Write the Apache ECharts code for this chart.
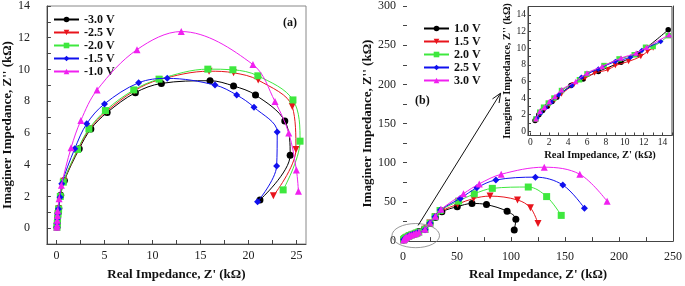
<!DOCTYPE html>
<html><head><meta charset="utf-8">
<script src="https://cdn.jsdelivr.net/npm/echarts@6/dist/echarts.min.js"></script>
<style>html,body{margin:0;padding:0;background:#fff}#c{width:685px;height:286px}</style>
</head><body><div id="c"></div>
<script>
// ---------- labels / ticks ----------
const namesA = ['-3.0 V', '-2.5 V', '-2.0 V', '-1.5 V', '-1.0 V'];
const namesB = ['1.0 V', '1.5 V', '2.0 V', '2.5 V', '3.0 V'];
const xLabelsA = [0, 5, 10, 15, 20, 25];
const xTicksA = [0, 2.5, 5, 7.5, 10, 12.5, 15, 17.5, 20, 22.5, 25];
const yLabelsA = [0, 2, 4, 6, 8, 10, 12, 14];
const yTicksA = [-1, 0, 1, 2, 3, 4, 5, 6, 7, 8, 9, 10, 11, 12, 13, 14];
const xLabelsB = [0, 50, 100, 150, 200, 250];
const xTicksB = [0, 25, 50, 75, 100, 125, 150, 175, 200, 225, 250];
const yLabelsB = [0, 50, 100, 150, 200, 250, 300];
const yTicksB = [0, 25, 50, 75, 100, 125, 150, 175, 200, 225, 250, 275, 300];
const xLabelsIn = [0, 2, 4, 6, 8, 10, 12, 14];
const yLabelsIn = [0, 2, 4, 6, 8, 10, 12, 14];
const xTicksIn = [0, 1, 2, 3, 4, 5, 6, 7, 8, 9, 10, 11, 12, 13, 14, 15];
const yTicksIn = [0, 1, 2, 3, 4, 5, 6, 7, 8, 9, 10, 11, 12, 13, 14, 15];

// ---------- panel (a) data: [Z', Z''] in kOhm ----------
const aM30 = [[0.05,0.05],[0.08,0.3],[0.12,0.65],[0.17,0.95],[0.24,1.25],[0.44,2.08],[0.82,3.0],[2.37,5.0],[3.58,6.25],[5.28,7.29],[8.22,8.54],[10.93,9.12],[16.0,9.29],[18.45,8.96],[20.74,8.39],[23.79,6.75],[24.35,4.6],[21.2,1.78]];
const aM25 = [[0.05,0.05],[0.08,0.3],[0.11,0.6],[0.16,0.9],[0.22,1.2],[0.4,2.0],[0.75,2.95],[2.25,4.95],[3.45,6.25],[5.2,7.35],[8.1,8.65],[10.7,9.35],[15.9,9.89],[18.45,9.79],[21.02,9.33],[24.57,7.66],[24.95,4.96],[22.6,2.04]];
const aM20 = [[0.05,0.05],[0.08,0.3],[0.11,0.6],[0.16,0.9],[0.22,1.2],[0.4,2.0],[0.71,2.9],[2.2,4.96],[3.38,6.25],[5.1,7.41],[8.05,8.71],[10.69,9.39],[15.77,10.02],[18.38,9.98],[20.98,9.6],[24.64,8.08],[25.38,5.48],[23.62,2.41]];
const aM15 = [[0.05,0.05],[0.07,0.3],[0.1,0.6],[0.14,0.9],[0.2,1.2],[0.37,1.95],[0.55,2.8],[1.9,5.0],[3.15,6.58],[5.0,7.83],[8.56,9.16],[11.54,9.44],[16.52,9.02],[18.78,8.39],[20.58,7.62],[23.0,6.06],[22.94,3.91],[20.95,1.66]];
const aM10 = [[0.03,0.05],[0.06,0.2],[0.08,0.5],[0.1,0.8],[0.12,1.1],[0.27,1.85],[0.51,2.7],[1.52,5.06],[2.54,6.79],[4.23,8.71],[8.39,11.25],[13.0,12.39],[20.47,10.31],[22.77,7.98],[24.2,6.0],[25.0,3.66],[25.21,2.33]];

// ---------- panel (b) data: low-impedance part (also the inset) ----------
const bLow10 = [[0.5,1.3],[0.9,2.0],[1.3,2.5],[1.8,3.0],[2.3,3.6],[2.8,4.1],[4.3,5.5],[5.6,6.3],[7.2,7.2],[9.6,8.3],[11.4,9.3],[14.6,12.2]];
const bLow15 = [[0.6,1.4],[1.0,2.1],[1.5,2.7],[2.0,3.2],[2.6,3.8],[3.3,4.5],[4.6,5.6],[5.8,6.4],[6.8,7.0],[8.2,7.4],[9.0,7.9],[10.4,8.4],[11.7,9.0],[12.4,9.6],[13.0,10.0]];
const bLow20 = [[0.6,1.5],[1.0,2.3],[1.4,2.9],[1.9,3.4],[2.5,4.0],[3.3,4.9],[5.2,6.2],[6.0,6.9],[7.8,7.9],[9.4,8.7],[11.0,9.2],[12.2,10.1],[13.0,10.2],[14.6,11.5]];
const bLow25 = [[0.7,1.6],[1.1,2.2],[1.6,2.8],[2.2,3.5],[3.0,4.4],[4.4,5.5],[5.4,6.5],[7.2,7.5],[9.0,8.4],[10.6,8.9],[11.8,9.7],[13.8,10.8]];
const bLow30 = [[0.6,1.5],[1.0,2.4],[1.5,2.9],[2.0,3.6],[2.6,4.2],[3.3,5.0],[4.8,6.0],[6.0,7.0],[7.6,7.8],[9.6,8.8],[11.2,9.4],[12.3,10.1],[14.7,11.6]];
// ---------- panel (b) data: high-impedance part ----------
const bHigh10 = [[20,15.5],[25,22.5],[30,30],[36,37.5],[50.2,43.9],[63.9,48.0],[77.3,46.6],[96.4,38],[104.5,28],[103,14.1]];
const bHigh15 = [[20,15],[25,23],[30,31],[36,38.5],[50.5,47],[65.4,54.4],[80.6,57.4],[106,52.5],[118,42.5],[125,22.5]];
const bHigh20 = [[20.4,14.8],[25,22.8],[29.6,31],[34.3,39],[51.5,51],[66,60.3],[82.7,67.3],[116,69],[133,56.8],[146.5,32.8]];
const bHigh25 = [[20.4,14.5],[25,23],[29.6,31.2],[34.6,39.8],[53,54.5],[68.3,68],[86,78],[122.6,81.6],[148,71.6],[168,42]];
const bHigh30 = [[20.4,15],[25,23.2],[30,31.8],[35.2,40.5],[56,60.5],[70.6,73],[90.9,85.3],[130.8,94.3],[163.7,85.3],[189,50.8]];

// annotation anchors in panel (b) data coordinates
const ellipseCenter = [11.8, 7];
const ellipseRadius = [22, 15.4];
const arrowFrom = [14, 20];
const arrowTo = [90.4, 188.8];

// ---------- styles ----------
const SERIF = "'Liberation Serif','Times New Roman',serif";
const colors = ['#000000', '#e8141c', '#3ee83e', '#1010ee', '#f020f0'];
const symbols = ['circle', 'triangle', 'rect', 'diamond', 'triangle'];
const rotations = [0, 180, 0, 0, 0];

function mkSeries(name, data, i, idx, size) {
  return {
    type: 'line', name: name, data: data,
    xAxisIndex: idx, yAxisIndex: idx,
    smooth: 0.35, symbol: symbols[i], symbolRotate: rotations[i], symbolSize: size,
    lineStyle: { color: colors[i], width: 1 },
    itemStyle: { color: colors[i] },
    emphasis: { disabled: true }, silent: true, z: 3 + i
  };
}

const aData = [aM30, aM25, aM20, aM15, aM10];
const bData = [bLow10.concat(bHigh10), bLow15.concat(bHigh15), bLow20.concat(bHigh20), bLow25.concat(bHigh25), bLow30.concat(bHigh30)];
const inData = [bLow10, bLow15, bLow20, bLow25, bLow30];

const series = [];
aData.forEach((d, i) => series.push(mkSeries(namesA[i], d, i, 0, 7)));
bData.forEach((d, i) => series.push(mkSeries(namesB[i], d, i, 1, 7)));
inData.forEach((d, i) => series.push(mkSeries(namesB[i], d, i, 2, 5.5)));

function valAxis(o) {
  return Object.assign({
    type: 'value', splitLine: { show: false },
    axisLine: { show: true, onZero: false, lineStyle: { color: '#444', width: 1 } },
    nameLocation: 'middle',
    nameTextStyle: { fontFamily: SERIF, fontWeight: 'bold', fontSize: 13, color: '#111' }
  }, o);
}
function lbl(vals, margin, size) {
  return { customValues: vals, margin: margin, fontFamily: SERIF, fontSize: size, color: '#222' };
}
function tk(vals, len) {
  return { show: true, inside: true, length: len, customValues: vals, lineStyle: { color: '#444' } };
}

const option = {
  animation: false,
  backgroundColor: '#fff',
  grid: [
    { left: 39, top: 4, width: 267, height: 242, show: true, borderColor: '#888', borderWidth: 1 },
    { left: 403, top: 5, width: 274, height: 243.5, show: false },
    { left: 528, top: 6.5, width: 144, height: 129, show: true, borderColor: '#444', borderWidth: 1, backgroundColor: '#fff' }
  ],
  xAxis: [
    valAxis({ gridIndex: 0, min: -1, max: 26, name: "Real Impedance, Z' (kΩ)", nameGap: 24,
      axisLabel: lbl(xLabelsA, 6, 12), axisTick: tk(xTicksA, 4) }),
    valAxis({ gridIndex: 1, min: 0, max: 250, name: "Real Impedance, Z' (kΩ)", nameGap: 23,
      axisLabel: lbl(xLabelsB, 10, 12), axisTick: tk(xTicksB, 4) }),
    valAxis({ gridIndex: 2, min: -0.25, max: 15, name: "Real Impedance, Z' (kΩ)", nameGap: 14,
      nameTextStyle: { fontFamily: SERIF, fontWeight: 'bold', fontSize: 10.5, color: '#111' },
      axisLabel: lbl(xLabelsIn, 2, 9.5), axisTick: tk(xTicksIn, 3) })
  ],
  yAxis: [
    valAxis({ gridIndex: 0, min: -1, max: 14, name: "Imaginer Impedance, Z'' (kΩ)", nameGap: 24,
      axisLabel: lbl(yLabelsA, 17, 12), axisTick: tk(yTicksA, 4) }),
    valAxis({ gridIndex: 1, min: 0, max: 300, name: "Imaginer Impedance, Z'' (kΩ)", nameGap: 25,
      axisLine: { show: false },
      axisLabel: lbl(yLabelsB, 7, 12), axisTick: tk(yTicksB, 4) }),
    valAxis({ gridIndex: 2, min: -0.5, max: 15, name: "Imaginer Impedance, Z'' (kΩ)", nameGap: 12,
      nameTextStyle: { fontFamily: SERIF, fontWeight: 'bold', fontSize: 10.5, color: '#111' },
      axisLabel: lbl(yLabelsIn, 2, 9.5), axisTick: tk(yTicksIn, 3) }),
    valAxis({ gridIndex: 1, min: 0, max: 300, position: 'right', axisLabel: { show: false }, axisTick: { show: false } })
  ],
  legend: [
    { data: namesA, orient: 'vertical', left: 48, top: 8, itemWidth: 25, itemHeight: 7, itemGap: 0,
      selectedMode: false, textStyle: { fontFamily: SERIF, fontWeight: 'bold', fontSize: 12, color: '#111', lineHeight: 13 } },
    { data: namesB, orient: 'vertical', left: 418, top: 17, itemWidth: 25, itemHeight: 7, itemGap: 0,
      selectedMode: false, textStyle: { fontFamily: SERIF, fontWeight: 'bold', fontSize: 12, color: '#111', lineHeight: 13 } }
  ],
  graphic: [
    { type: 'text', left: 283, top: 17, style: { text: '(a)', font: "bold 12px " + SERIF, fill: '#111' } },
    { type: 'text', left: 415, top: 95, style: { text: '(b)', font: "bold 12px " + SERIF, fill: '#111' } }
  ],
  series: series
};

const chart = echarts.init(document.getElementById('c'), null, { renderer: 'canvas' });
chart.setOption(option);

// annotations positioned through the panel (b) scales
const finder = { xAxisIndex: 1, yAxisIndex: 1 };
const c = chart.convertToPixel(finder, ellipseCenter);
const cx = chart.convertToPixel(finder, [ellipseCenter[0] + ellipseRadius[0], ellipseCenter[1]]);
const cy = chart.convertToPixel(finder, [ellipseCenter[0], ellipseCenter[1] + ellipseRadius[1]]);
const rx = Math.abs(cx[0] - c[0]), ry = Math.abs(c[1] - cy[1]);
const p1 = chart.convertToPixel(finder, arrowFrom);
const p2 = chart.convertToPixel(finder, arrowTo);
const ang = Math.atan2(p2[1] - p1[1], p2[0] - p1[0]);
const hl = 10, ha = 0.4;
const h1 = [p2[0] - hl * Math.cos(ang - ha), p2[1] - hl * Math.sin(ang - ha)];
const h2 = [p2[0] - hl * Math.cos(ang + ha), p2[1] - hl * Math.sin(ang + ha)];
chart.setOption({
  graphic: option.graphic.concat([
    { type: 'circle', x: c[0], y: c[1], scaleY: ry / rx, shape: { cx: 0, cy: 0, r: rx }, z: 10,
      style: { fill: 'none', stroke: '#777', lineWidth: 1, strokeNoScale: true } },
    { type: 'line', shape: { x1: p1[0], y1: p1[1], x2: p2[0], y2: p2[1] }, z: 10, style: { stroke: '#111', lineWidth: 1 } },
    { type: 'polyline', shape: { points: [h1, p2, h2] }, z: 10, style: { stroke: '#111', lineWidth: 1, fill: 'none' } }
  ])
});
</script>
</body></html>
